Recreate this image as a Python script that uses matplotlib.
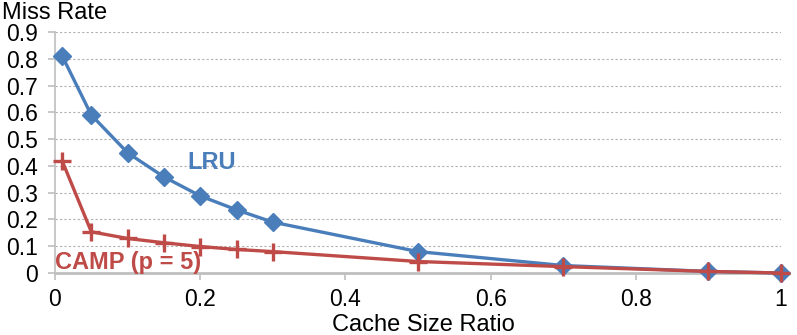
import matplotlib.pyplot as plt
import numpy as np

plt.rcParams['font.family'] = ['Liberation Sans', 'DejaVu Sans']

# cache size ratio (x) and miss rates
cache_ratio = [0.01, 0.05, 0.1, 0.15, 0.2, 0.25, 0.3, 0.5, 0.7, 0.9, 1.0]
lru_miss = [0.81, 0.59, 0.449, 0.359, 0.288, 0.236, 0.19, 0.08, 0.028, 0.006, 0.0]
camp_miss = [0.418, 0.154, 0.129, 0.113, 0.099, 0.088, 0.08, 0.043, 0.024, 0.006, 0.0]

x_ticks = [0, 0.2, 0.4, 0.6, 0.8, 1]
x_tick_labels = ["0", "0.2", "0.4", "0.6", "0.8", "1"]
y_ticks = np.arange(0, 10) / 10
y_tick_labels = ["0"] + ["0.%d" % i for i in range(1, 10)]

blue = "#4A7EBB"
red = "#BE4B48"
gray = "#BFBFBF"

fig = plt.figure(figsize=(7.97, 3.35), dpi=100)
ax = fig.add_axes([0.069, 0.185, 0.911, 0.7195])

ax.plot(cache_ratio, lru_miss, color=blue, linewidth=2.4, marker="D",
        markersize=9.5, clip_on=False, zorder=3)
ax.plot(cache_ratio, camp_miss, color=red, linewidth=2.4, marker="+",
        markersize=13, markeredgewidth=2.4, clip_on=False, zorder=4)

ax.set_xlim(0, 1)
ax.set_ylim(0, 0.9)
ax.set_xticks(x_ticks)
ax.set_xticklabels(x_tick_labels)
ax.set_yticks(y_ticks)
ax.set_yticklabels(y_tick_labels)

ax.grid(axis="y", color="#B0B0B0", linestyle=(0, (2, 2)), linewidth=0.8)
ax.set_axisbelow(True)

for side in ["top", "right"]:
    ax.spines[side].set_visible(False)
ax.spines["left"].set_color(gray)
ax.spines["left"].set_linewidth(1.2)
ax.spines["bottom"].set_color(gray)
ax.spines["bottom"].set_linewidth(2)

ax.tick_params(axis="both", labelsize=16.5, colors="black", length=5,
               width=1.2, color=gray, direction="out")
ax.tick_params(axis="x", pad=6)
ax.tick_params(axis="y", pad=7)

ax.set_xlabel("Cache Size Ratio", fontsize=17)
ax.xaxis.set_label_coords(0.508, -0.168)
fig.text(0.003, 0.96, "Miss Rate", fontsize=17, va="center", ha="left")

ax.text(0.183, 0.414, "LRU", color=blue, fontsize=17, fontweight="bold",
        va="center", ha="left")
ax.text(0.0, 0.041, "CAMP (p = 5)", color=red, fontsize=17,
        fontweight="bold", va="center", ha="left")

fig.savefig("out.png", dpi=100)
